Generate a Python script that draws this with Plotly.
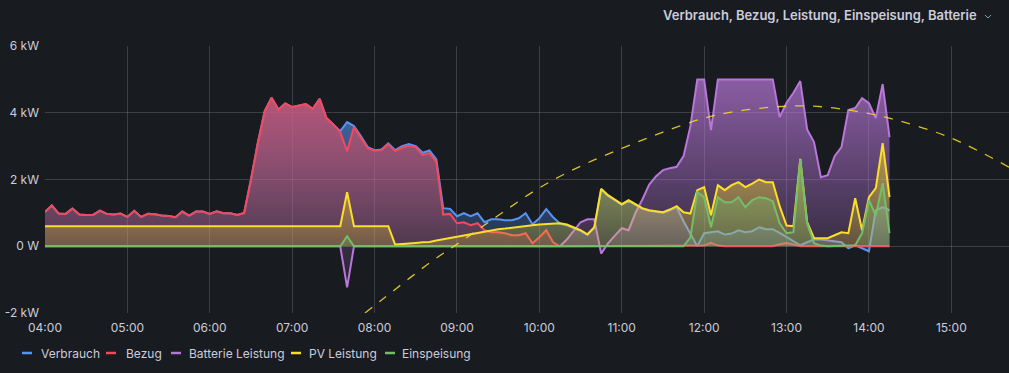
import pandas as pd
import plotly.graph_objects as go

# ---------------- data (kW, 5-minute samples 04:00 .. 14:15) ----------------
day = "2023-06-15"
times = pd.date_range(f"{day} 04:00", f"{day} 14:15", freq="5min")

bezug = [
    1.03, 1.22, 0.98, 0.97, 1.13, 0.95, 0.94, 0.94, 1.07, 0.97, 0.95, 0.98,   # 04:00-04:55
    0.88, 1.06, 0.88, 0.97, 0.96, 0.92, 0.91, 0.87, 1.04, 0.92, 1.04, 1.04,   # 05:00-05:55
    0.97, 1.05, 0.99, 0.99, 0.94, 1.00, 2.00, 3.10, 4.05, 4.45, 4.10, 4.28,   # 06:00-06:55
    4.17, 4.22, 4.26, 4.12, 4.42, 3.84, 3.65, 3.42, 2.85, 3.57, 3.27, 2.94,   # 07:00-07:55
    2.86, 2.88, 3.06, 2.85, 2.95, 3.00, 2.97, 2.73, 2.79, 2.52, 0.95, 0.97,   # 08:00-08:55
    0.69, 0.72, 0.63, 0.69, 0.48, 0.42, 0.42, 0.39, 0.33, 0.33, 0.39, 0.09,   # 09:00-09:55
    0.27, 0.48, 0.12, 0.00, 0.00, 0.00, 0.01, 0.00, 0.00, 0.00, 0.00, 0.00,   # 10:00-10:55
    0.00, 0.00, 0.00, 0.00, 0.00, 0.00, 0.00, 0.00, 0.00, 0.00, 0.00, 0.00,   # 11:00-11:55
    0.02, 0.10, 0.02, 0.00, 0.00, 0.00, 0.00, 0.00, 0.00, 0.00, 0.00, 0.06,   # 12:00-12:55
    0.10, 0.05, 0.00, 0.00, 0.01, 0.00, 0.00, 0.00, 0.00, 0.00, 0.00, 0.00,   # 13:00-13:55
    0.00, 0.00, 0.00, 0.00,                                                   # 14:00-14:15
]

verbrauch = [
    1.03, 1.22, 0.98, 0.97, 1.13, 0.95, 0.94, 0.94, 1.07, 0.97, 0.95, 0.98,
    0.88, 1.06, 0.88, 0.97, 0.96, 0.92, 0.91, 0.87, 1.04, 0.92, 1.04, 1.04,
    0.97, 1.05, 0.99, 0.99, 0.94, 1.00, 2.00, 3.10, 4.05, 4.45, 4.10, 4.28,
    4.17, 4.22, 4.26, 4.12, 4.42, 3.84, 3.65, 3.45, 3.72, 3.60, 3.30, 2.97,
    2.88, 2.90, 3.08, 2.88, 3.00, 3.06, 3.00, 2.80, 2.87, 2.60, 1.14, 1.12,
    0.90, 0.99, 0.90, 0.99, 0.72, 0.81, 0.81, 0.78, 0.78, 0.84, 0.99, 0.66,
    0.84, 1.11, 0.87, 0.68, 0.63, 0.55, 0.46, 0.34, 0.55, 1.70, 1.51, 1.38,
    1.24, 1.36, 1.23, 1.12, 1.06, 1.03, 1.00, 1.08, 1.17, 0.75, 0.39, 0.00,
    0.39, 0.42, 0.45, 0.35, 0.38, 0.48, 0.42, 0.45, 0.57, 0.51, 0.51, 0.40,
    0.27, 0.15, 0.03, 0.12, 0.21, 0.20, 0.18, 0.15, 0.12, -0.06, 0.03, -0.06,
    -0.15, 1.08, 1.17, 1.08,
]

batterie = [
    0, 0, 0, 0, 0, 0, 0, 0, 0, 0, 0, 0,
    0, 0, 0, 0, 0, 0, 0, 0, 0, 0, 0, 0,
    0, 0, 0, 0, 0, 0, 0, 0, 0, 0, 0, 0,
    0, 0, 0, 0, 0, 0, 0, 0, -1.23, 0, 0, 0,
    0, 0, 0, 0, 0, 0, 0, 0, 0, 0, 0, 0,
    0, 0, 0, 0, 0, 0, 0, 0, 0, 0, 0, 0,
    0, 0, 0, 0.00, 0.20, 0.45, 0.72, 0.81, 0.81, -0.22, 0.09, 0.32,
    0.54, 0.48, 1.00, 1.40, 1.85, 2.10, 2.28, 2.34, 2.38, 2.70, 3.60, 5.00,
    5.00, 3.48, 5.00, 5.00, 5.00, 5.00, 5.00, 5.00, 5.00, 5.00, 5.00, 3.87,
    4.30, 4.60, 4.95, 3.50, 3.12, 2.07, 2.13, 2.70, 2.97, 4.08, 4.14, 4.44,
    4.29, 3.84, 4.86, 3.27,
]

pv = [
    0.6, 0.6, 0.6, 0.6, 0.6, 0.6, 0.6, 0.6, 0.6, 0.6, 0.6, 0.6,
    0.6, 0.6, 0.6, 0.6, 0.6, 0.6, 0.6, 0.6, 0.6, 0.6, 0.6, 0.6,
    0.6, 0.6, 0.6, 0.6, 0.6, 0.6, 0.6, 0.6, 0.6, 0.6, 0.6, 0.6,
    0.6, 0.6, 0.6, 0.6, 0.6, 0.6, 0.6, 0.6, 1.62, 0.6, 0.6, 0.6,
    0.6, 0.6, 0.6, 0.05, 0.06, 0.08, 0.10, 0.12, 0.13, 0.17, 0.21, 0.25,
    0.29, 0.33, 0.37, 0.40, 0.44, 0.47, 0.51, 0.53, 0.56, 0.58, 0.61, 0.63,
    0.65, 0.67, 0.69, 0.69, 0.65, 0.57, 0.48, 0.36, 0.57, 1.72, 1.53, 1.40,
    1.26, 1.38, 1.25, 1.14, 1.08, 1.05, 1.02, 1.10, 1.20, 1.02, 0.98, 1.68,
    1.77, 0.93, 1.83, 1.68, 1.83, 1.92, 1.77, 1.88, 2.00, 1.92, 1.92, 1.20,
    0.62, 0.60, 2.62, 0.72, 0.24, 0.24, 0.24, 0.33, 0.42, 0.39, 1.44, 0.48,
    1.47, 1.74, 3.09, 1.47,
]

einspeisung = [
    0, 0, 0, 0, 0, 0, 0, 0, 0, 0, 0, 0,
    0, 0, 0, 0, 0, 0, 0, 0, 0, 0, 0, 0,
    0, 0, 0, 0, 0, 0, 0, 0, 0, 0, 0, 0,
    0, 0, 0, 0, 0, 0, 0, 0, 0.30, 0, 0, 0,
    0, 0, 0, 0, 0, 0, 0, 0, 0, 0, 0, 0,
    0, 0, 0, 0, 0, 0, 0, 0, 0, 0, 0, 0,
    0, 0, 0, 0, 0, 0, 0, 0, 0, 0, 0, 0,
    0, 0, 0, 0, 0, 0, 0, 0, 0, 0, 0.27, 1.62,
    1.47, 0.57, 1.47, 1.32, 1.32, 1.47, 1.17, 1.38, 1.47, 1.44, 1.35, 0.69,
    0.39, 0.42, 2.60, 0.69, 0.09, 0.02, 0.00, 0.00, 0.00, 0.02, 0.03, 0.39,
    1.38, 0.93, 1.89, 0.39,
]

# dashed expected-PV (sun) curve
sun_times = ["07:53", "08:07", "08:41", "09:05", "09:30", "10:00", "10:30", "11:00",
             "11:30", "12:00", "12:20", "12:50", "13:18", "13:50", "14:20", "15:00", "15:42"]
sun_values = [-2.0, -1.55, -0.47, 0.20, 0.92, 1.75, 2.40, 2.93,
              3.42, 3.84, 4.02, 4.17, 4.20, 4.05, 3.78, 3.24, 2.37]

series_names = ["Verbrauch", "Bezug", "Batterie Leistung", "PV Leistung", "Einspeisung"]
series_colors = ["#5794F2", "#F2495C", "#B877D9", "#FADE2A", "#73BF69"]
series_values = [verbrauch, bezug, batterie, pv, einspeisung]

y_ticks = [-2, 0, 2, 4, 6]
y_tick_labels = ["-2 kW", "0 W", "2 kW", "4 kW", "6 kW"]
title_text = "Verbrauch, Bezug, Leistung, Einspeisung, Batterie"

# ---------------- figure ----------------
W, H = 1009, 373
ML, MR, MT, MB = 45, 0, 46, 60
BG = "#181b1f"
TXT = "rgb(204,204,220)"
FONT = "Inter"


def hex_rgb(h):
    h = h.lstrip("#")
    return tuple(int(h[i:i + 2], 16) for i in (0, 2, 4))


fig = go.Figure()
for name, color, vals in zip(series_names, series_colors, series_values):
    r, g, b = hex_rgb(color)
    fig.add_trace(go.Scatter(
        x=times, y=vals, name=name, mode="lines",
        line=dict(color=color, width=2),
        fill="tozeroy",
        fillgradient=dict(
            type="vertical", start=-2, stop=6,
            colorscale=[[0, f"rgba({r},{g},{b},0)"], [1, f"rgba({r},{g},{b},0.82)"]],
        ),
        showlegend=False,
    ))

fig.add_trace(go.Scatter(
    x=[pd.Timestamp(f"{day} {t}") for t in sun_times], y=sun_values,
    mode="lines", line=dict(color="rgba(250,222,42,0.85)", width=1.3, dash="9px,9px", shape="spline"),
    showlegend=False, name="PV Prognose",
))

plot_w = W - ML - MR
plot_h = H - MT - MB


def px_x(p):
    return (p - ML) / plot_w


def px_y(p):
    return (H - MB - p) / plot_h


shapes = []
annotations = []

# legend (manual, Grafana-style short line markers)
legend_items = [(22, 39), (106, 124), (171, 187), (291, 307), (385, 400)]
ly = 353
for (mx, tx), name, color in zip(legend_items, series_names, series_colors):
    shapes.append(dict(type="line", xref="paper", yref="paper",
                       x0=px_x(mx), x1=px_x(mx + 10), y0=px_y(ly), y1=px_y(ly),
                       line=dict(color=color, width=2.5)))
    annotations.append(dict(text=name, xref="paper", yref="paper",
                            x=px_x(tx), y=px_y(ly), xanchor="left", yanchor="middle",
                            showarrow=False, font=dict(family=FONT, size=12, color=TXT)))

# panel title (top right) and chevron
annotations.append(dict(text=title_text, xref="paper", yref="paper",
                        x=px_x(979), y=px_y(15), xanchor="right", yanchor="middle",
                        showarrow=False, font=dict(family=FONT, size=13, color=TXT, weight=600)))
shapes.append(dict(type="path", xref="paper", yref="paper",
                   path=f"M {px_x(985)},{px_y(15)} L {px_x(988)},{px_y(18)} L {px_x(991)},{px_y(15)}",
                   line=dict(color="rgba(204,204,220,0.7)", width=1)))

fig.update_layout(
    width=W, height=H,
    margin=dict(l=ML, r=MR, t=MT, b=MB, pad=0, autoexpand=False),
    paper_bgcolor=BG, plot_bgcolor=BG,
    font=dict(family=FONT, size=12, color=TXT),
    shapes=shapes, annotations=annotations,
    showlegend=False,
    xaxis=dict(
        type="date",
        range=[f"{day} 04:00", f"{day} 15:42"],
        tick0=f"{day} 04:00", dtick=3600000, tickformat="%H:%M",
        showgrid=True, gridcolor="rgba(204,204,220,0.2)", gridwidth=1,
        zeroline=False, showline=False, ticks="",
        tickfont=dict(family=FONT, size=12, color=TXT),
        ticklabelstandoff=6, automargin=False,
    ),
    yaxis=dict(
        range=[-2, 6], tickvals=y_ticks, ticktext=y_tick_labels,
        showgrid=True, gridcolor="rgba(204,204,220,0.2)", gridwidth=1,
        zeroline=False, showline=False, ticks="",
        tickfont=dict(family=FONT, size=12, color=TXT),
        ticklabelstandoff=5, automargin=False,
    ),
)

fig.write_html(
    "out.html",
    config={"displayModeBar": False},
    post_script="document.body.style.margin='0';document.body.style.background='#181b1f';"
                "document.body.style.overflow='hidden';",
)
